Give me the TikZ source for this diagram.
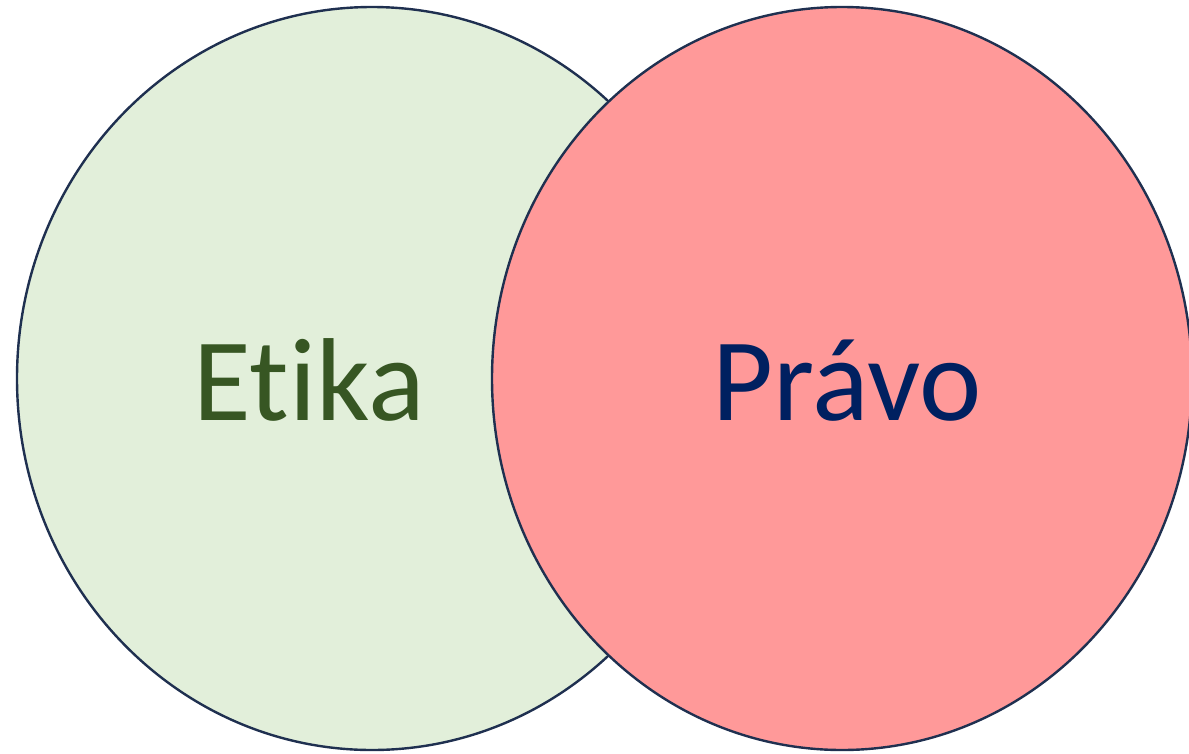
\documentclass[tikz,border=0pt]{standalone}
\usepackage{fontspec}
\setmainfont[RawFeature={-liga;-dlig}]{Carlito}
\definecolor{etikafill}{HTML}{E2EFDA}
\definecolor{pravofill}{HTML}{FF9999}
\definecolor{edge}{HTML}{1F3050}
\definecolor{etikatext}{HTML}{375623}
\definecolor{pravotext}{HTML}{002060}
\tikzset{
  setshape/.style={draw=edge, line width=2.4pt},
  setlabel/.style={font=\fontsize{118}{118}\selectfont, anchor=base, inner sep=0pt}
}
\begin{document}
\begin{tikzpicture}[x=1pt,y=-1pt]
\useasboundingbox (0,0) rectangle (1189,753);
\begin{scope}
\clip (0,0) rectangle (1189,753);
\filldraw[setshape, fill=etikafill] (372,378.5) ellipse [x radius=355, y radius=371.5];
\filldraw[setshape, fill=pravofill] (842,378.5) ellipse [x radius=350, y radius=371.5];
\end{scope}
\node[setlabel, text=etikatext] (etika) at (309,420) {Etika};
\node[setlabel, text=pravotext] (pravo) at (847,420) {Právo};
\end{tikzpicture}
\end{document}
